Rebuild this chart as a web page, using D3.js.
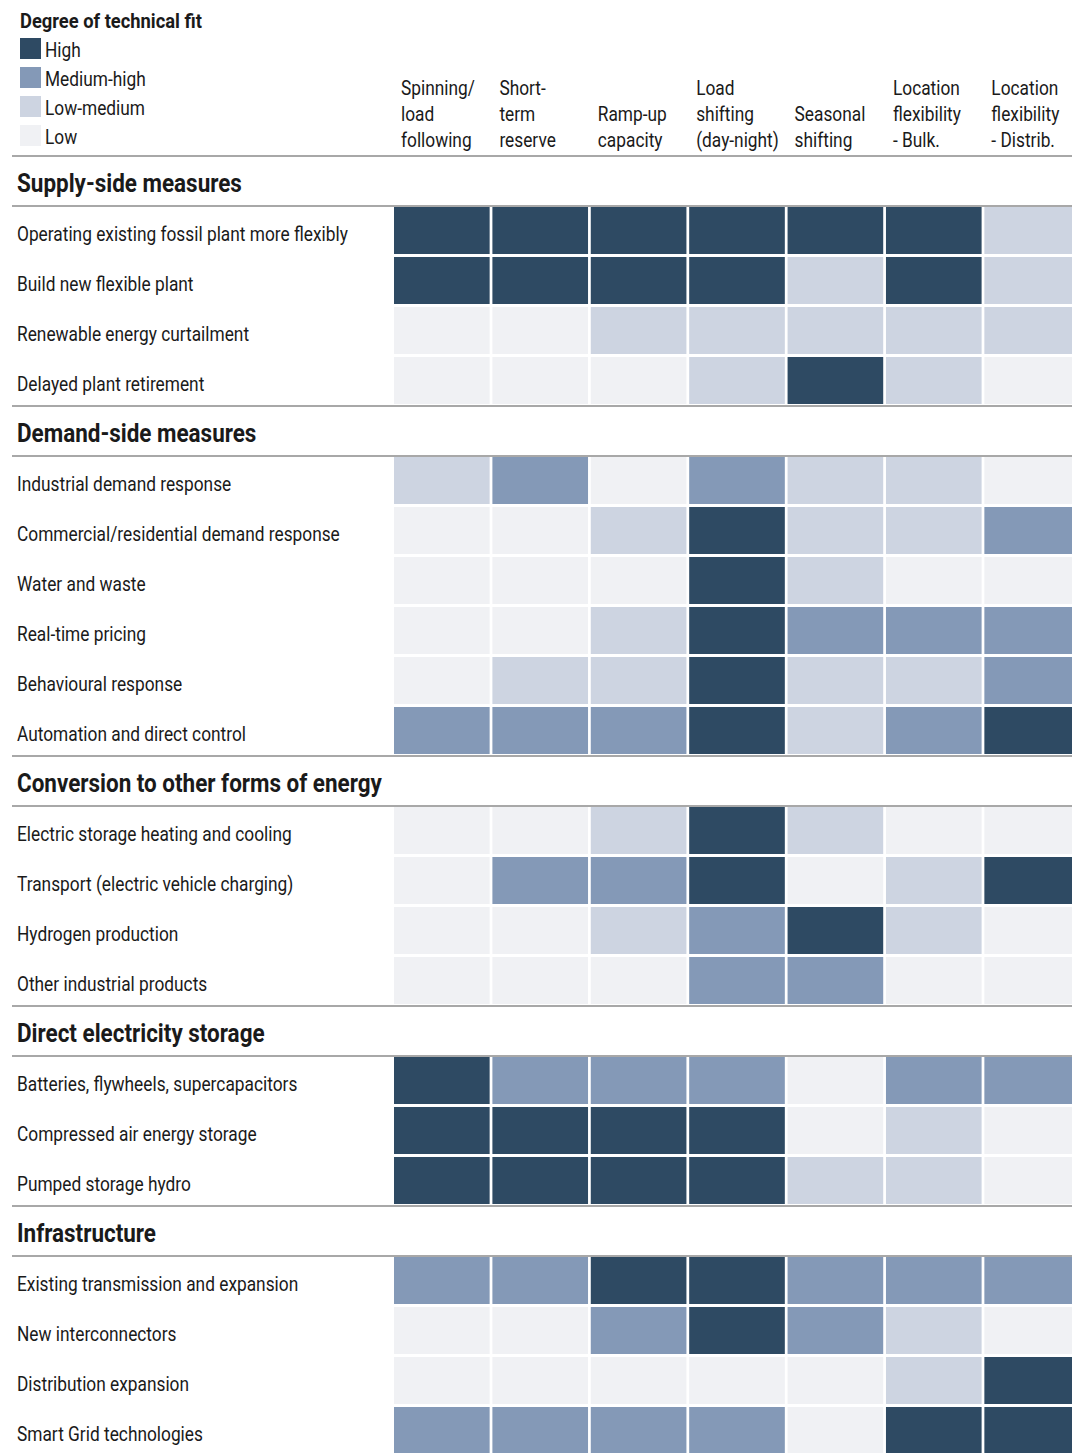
<!DOCTYPE html>
<html>
<head>
<meta charset="utf-8">
<script src="https://cdn.jsdelivr.net/npm/d3@7"></script>
<style>
  body { margin: 0; background: #fff; }
  svg text { font-family: "Roboto", "Liberation Sans", sans-serif; fill: #1a1a1a; }
</style>
</head>
<body>
<div id="chart"></div>
<script>
var columns = ["Spinning/ load following", "Short-term reserve", "Ramp-up capacity",
  "Load shifting (day-night)", "Seasonal shifting", "Location flexibility - Bulk.", "Location flexibility - Distrib."];
var columnLines = [
  ["Spinning/", "load", "following"],
  ["Short-", "term", "reserve"],
  ["", "Ramp-up", "capacity"],
  ["Load", "shifting", "(day-night)"],
  ["", "Seasonal", "shifting"],
  ["Location", "flexibility", "- Bulk."],
  ["Location", "flexibility", "- Distrib."]
];

var levels = ["High", "Medium-high", "Low-medium", "Low"];
var levelColors = ["#2e4a63", "#8499b7", "#cdd4e1", "#f0f1f4"];

// 3 = High, 2 = Medium-high, 1 = Low-medium, 0 = Low
var sections = ["Supply-side measures", "Demand-side measures", "Conversion to other forms of energy",
  "Direct electricity storage", "Infrastructure"];

var supplyMeasures = ["Operating existing fossil plant more flexibly", "Build new flexible plant",
  "Renewable energy curtailment", "Delayed plant retirement"];
var supplyValues = [
  [3, 3, 3, 3, 3, 3, 1],
  [3, 3, 3, 3, 1, 3, 1],
  [0, 0, 1, 1, 1, 1, 1],
  [0, 0, 0, 1, 3, 1, 0]
];

var demandMeasures = ["Industrial demand response", "Commercial/residential demand response",
  "Water and waste", "Real-time pricing", "Behavioural response", "Automation and direct control"];
var demandValues = [
  [1, 2, 0, 2, 1, 1, 0],
  [0, 0, 1, 3, 1, 1, 2],
  [0, 0, 0, 3, 1, 0, 0],
  [0, 0, 1, 3, 2, 2, 2],
  [0, 1, 1, 3, 1, 1, 2],
  [2, 2, 2, 3, 1, 2, 3]
];

var conversionMeasures = ["Electric storage heating and cooling", "Transport (electric vehicle charging)",
  "Hydrogen production", "Other industrial products"];
var conversionValues = [
  [0, 0, 1, 3, 1, 0, 0],
  [0, 2, 2, 3, 0, 1, 3],
  [0, 0, 1, 2, 3, 1, 0],
  [0, 0, 0, 2, 2, 0, 0]
];

var storageMeasures = ["Batteries, flywheels, supercapacitors", "Compressed air energy storage",
  "Pumped storage hydro"];
var storageValues = [
  [3, 2, 2, 2, 0, 2, 2],
  [3, 3, 3, 3, 0, 1, 0],
  [3, 3, 3, 3, 1, 1, 0]
];

var infraMeasures = ["Existing transmission and expansion", "New interconnectors",
  "Distribution expansion", "Smart Grid technologies"];
var infraValues = [
  [2, 2, 3, 3, 2, 2, 2],
  [0, 0, 2, 3, 2, 1, 0],
  [0, 0, 0, 0, 0, 1, 3],
  [2, 2, 2, 2, 0, 3, 3]
];

var groups = [
  [supplyMeasures, supplyValues],
  [demandMeasures, demandValues],
  [conversionMeasures, conversionValues],
  [storageMeasures, storageValues],
  [infraMeasures, infraValues]
];

// flatten into one list of rows (section headers + measures)
var rows = [];
groups.forEach(function(g, i) {
  rows.push({ type: "section", label: sections[i] });
  g[0].forEach(function(m, j) {
    rows.push({ type: "measure", label: m, values: g[1][j] });
  });
});

var svgWidth = 1072;
var svgHeight = 1453;

var svg = d3.select("#chart")
  .append("svg")
  .attr("width", svgWidth)
  .attr("height", svgHeight);

// the original uses a condensed face; squeeze Roboto horizontally to match
function squeezeFor(text, target, size, weight) {
  var t = svg.append("text")
    .style("font-size", size + "px")
    .style("font-weight", weight)
    .text(text);
  var w = t.node().getComputedTextLength();
  t.remove();
  return target / w;
}
var sxReg = squeezeFor("Operating existing fossil plant more flexibly", 331, 21, "normal");
var sxBold = squeezeFor("Conversion to other forms of energy", 365, 25, "bold");
var sxTitle = squeezeFor("Degree of technical fit", 182, 21, "bold");

function place(x, y, sx) {
  return `translate(${x}, ${y}) scale(${sx}, 1)`;
}

var x = d3.scaleBand()
  .domain(columns)
  .range([394, 394 + 98 * 7])
  .paddingInner(0.028)
  .paddingOuter(0);

var y = d3.scaleBand()
  .domain(d3.range(rows.length))
  .range([156, 156 + 50 * rows.length]);

var color = d3.scaleOrdinal()
  .domain([3, 2, 1, 0])
  .range(levelColors);

// legend
svg.append("text")
  .attr("transform", place(20, 28, sxTitle))
  .style("font-size", "21px")
  .style("font-weight", "bold")
  .text("Degree of technical fit");

var legend = svg.selectAll(".legend")
  .data(levels)
  .enter()
  .append("g")
  .attr("class", "legend")
  .attr("transform", (d, i) => `translate(20, ${38 + i * 29})`);

legend.append("rect")
  .attr("width", 21)
  .attr("height", 21)
  .attr("fill", (d, i) => levelColors[i]);

legend.append("text")
  .attr("transform", place(25, 19, sxReg))
  .style("font-size", "21px")
  .text(d => d);

// column headers
var header = svg.selectAll(".colhead")
  .data(columns)
  .enter()
  .append("text")
  .attr("class", "colhead")
  .attr("transform", d => place(x(d) + 7, 0, sxReg))
  .style("font-size", "21px");

header.selectAll("tspan")
  .data((d, i) => columnLines[i])
  .enter()
  .append("tspan")
  .attr("x", 0)
  .attr("y", (d, i) => 95 + i * 26)
  .text(d => d);

// rows
var rowGroups = svg.selectAll(".row")
  .data(rows)
  .enter()
  .append("g")
  .attr("class", "row")
  .attr("transform", (d, i) => `translate(0, ${y(i)})`);

rowGroups.filter(d => d.type === "section")
  .append("text")
  .attr("transform", place(17, 36, sxBold))
  .style("font-size", "25px")
  .style("font-weight", "bold")
  .text(d => d.label);

var measureRows = rowGroups.filter(d => d.type === "measure");

measureRows.append("text")
  .attr("transform", place(17, 35, sxReg))
  .style("font-size", "21px")
  .text(d => d.label);

measureRows.selectAll("rect")
  .data(d => d.values.map((v, k) => ({ col: columns[k], v: v })))
  .enter()
  .append("rect")
  .attr("x", d => x(d.col))
  .attr("y", 1)
  .attr("width", x.bandwidth())
  .attr("height", y.bandwidth() - 3)
  .attr("fill", d => color(d.v));

// grey rules: above each section header and below it
var ruleYs = [];
rows.forEach(function(r, i) {
  if (r.type === "section") {
    ruleYs.push(y(i));
    ruleYs.push(y(i) + y.bandwidth());
  }
});

svg.selectAll(".rule")
  .data(ruleYs)
  .enter()
  .append("line")
  .attr("class", "rule")
  .attr("x1", 12)
  .attr("x2", svgWidth)
  .attr("y1", d => d)
  .attr("y2", d => d)
  .attr("stroke", "#a8a8a8")
  .attr("stroke-width", 2);
</script>
</body>
</html>
